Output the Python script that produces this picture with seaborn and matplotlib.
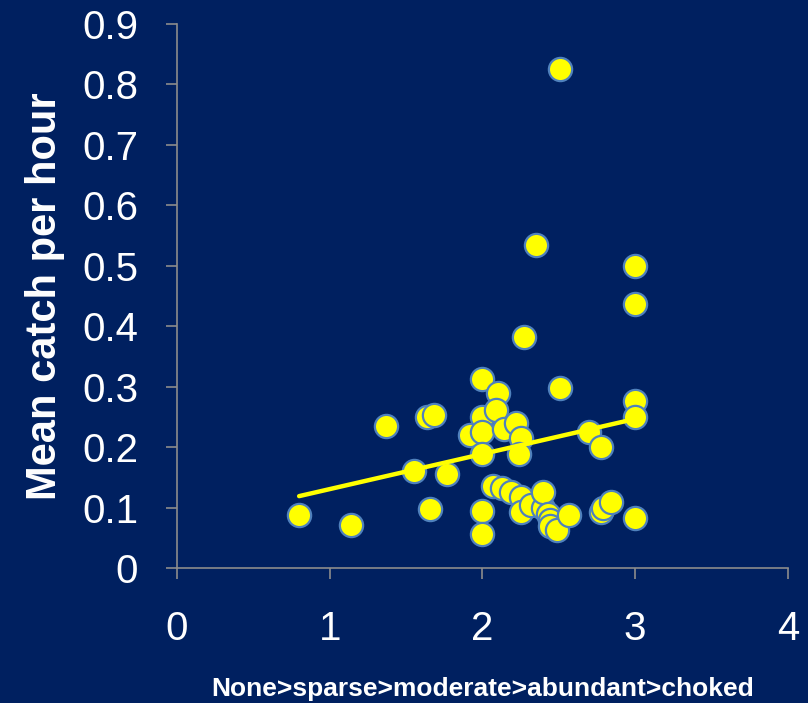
import numpy as np
import pandas as pd
import matplotlib
matplotlib.use("Agg")
import matplotlib.pyplot as plt
from matplotlib.ticker import FuncFormatter
import seaborn as sns

# vegetation density score (0 = none ... 4 = choked)
density = [0.80, 1.14, 1.37, 1.55, 1.64, 1.68, 1.66, 1.77, 1.92,
           2.00, 2.00, 2.00, 2.00, 2.00, 2.00,
           2.10, 2.09, 2.14, 2.22, 2.25, 2.24, 2.27, 2.35, 2.51, 2.51,
           2.07, 2.13, 2.19, 2.25, 2.25, 2.32, 2.40, 2.40, 2.43, 2.44, 2.44, 2.49, 2.57,
           2.70, 2.78, 2.78, 2.79, 2.84,
           3.00, 3.00, 3.00, 3.00, 3.00]
catch = [0.088, 0.071, 0.235, 0.16, 0.25, 0.253, 0.097, 0.155, 0.22,
         0.312, 0.25, 0.225, 0.188, 0.095, 0.057,
         0.29, 0.262, 0.23, 0.24, 0.215, 0.188, 0.382, 0.535, 0.825, 0.298,
         0.135, 0.133, 0.125, 0.118, 0.093, 0.104, 0.1, 0.125, 0.09, 0.08, 0.07, 0.063, 0.087,
         0.225, 0.2, 0.092, 0.1, 0.11,
         0.5, 0.437, 0.277, 0.25, 0.083]

df = pd.DataFrame({"density": density, "catch": catch})

BG = "#002060"
GRID = "#8c8c8c"

sns.set_style("ticks")
plt.rcParams["font.family"] = ["Liberation Sans", "DejaVu Sans"]

fig = plt.figure(figsize=(8.08, 7.03), dpi=100, facecolor=BG)
ax = fig.add_axes([0.219, 0.192, 0.756, 0.774])
ax.set_facecolor(BG)

sns.regplot(data=df, x="density", y="catch", ax=ax, ci=None, truncate=True,
            scatter_kws=dict(s=280, color="#ffff00", edgecolor="#4f81bd",
                             linewidths=1.6, alpha=1, zorder=3),
            line_kws=dict(color="#ffff00", lw=3.2, zorder=4))

ax.set_xlim(0, 4)
ax.set_ylim(0, 0.9)
ax.set_xticks([0, 1, 2, 3, 4])
ax.set_yticks(np.arange(0, 0.91, 0.1))
ax.yaxis.set_major_formatter(FuncFormatter(lambda v, p: "0" if abs(v) < 1e-9 else "%.1f" % v))

for side in ["top", "right"]:
    ax.spines[side].set_visible(False)
for side in ["left", "bottom"]:
    ax.spines[side].set_color(GRID)
    ax.spines[side].set_linewidth(1.2)

ax.tick_params(axis="both", colors=GRID, length=8, width=1.2, labelcolor="white", labelsize=29)
ax.tick_params(axis="y", pad=20)
ax.tick_params(axis="x", pad=22)

ax.set_xlabel("None>sparse>moderate>abundant>choked", color="white", fontsize=19,
              fontweight="bold", labelpad=21)
ax.set_ylabel("Mean catch per hour", color="white", fontsize=30, fontweight="bold", labelpad=12)

fig.savefig("out.png", dpi=100, facecolor=BG)
